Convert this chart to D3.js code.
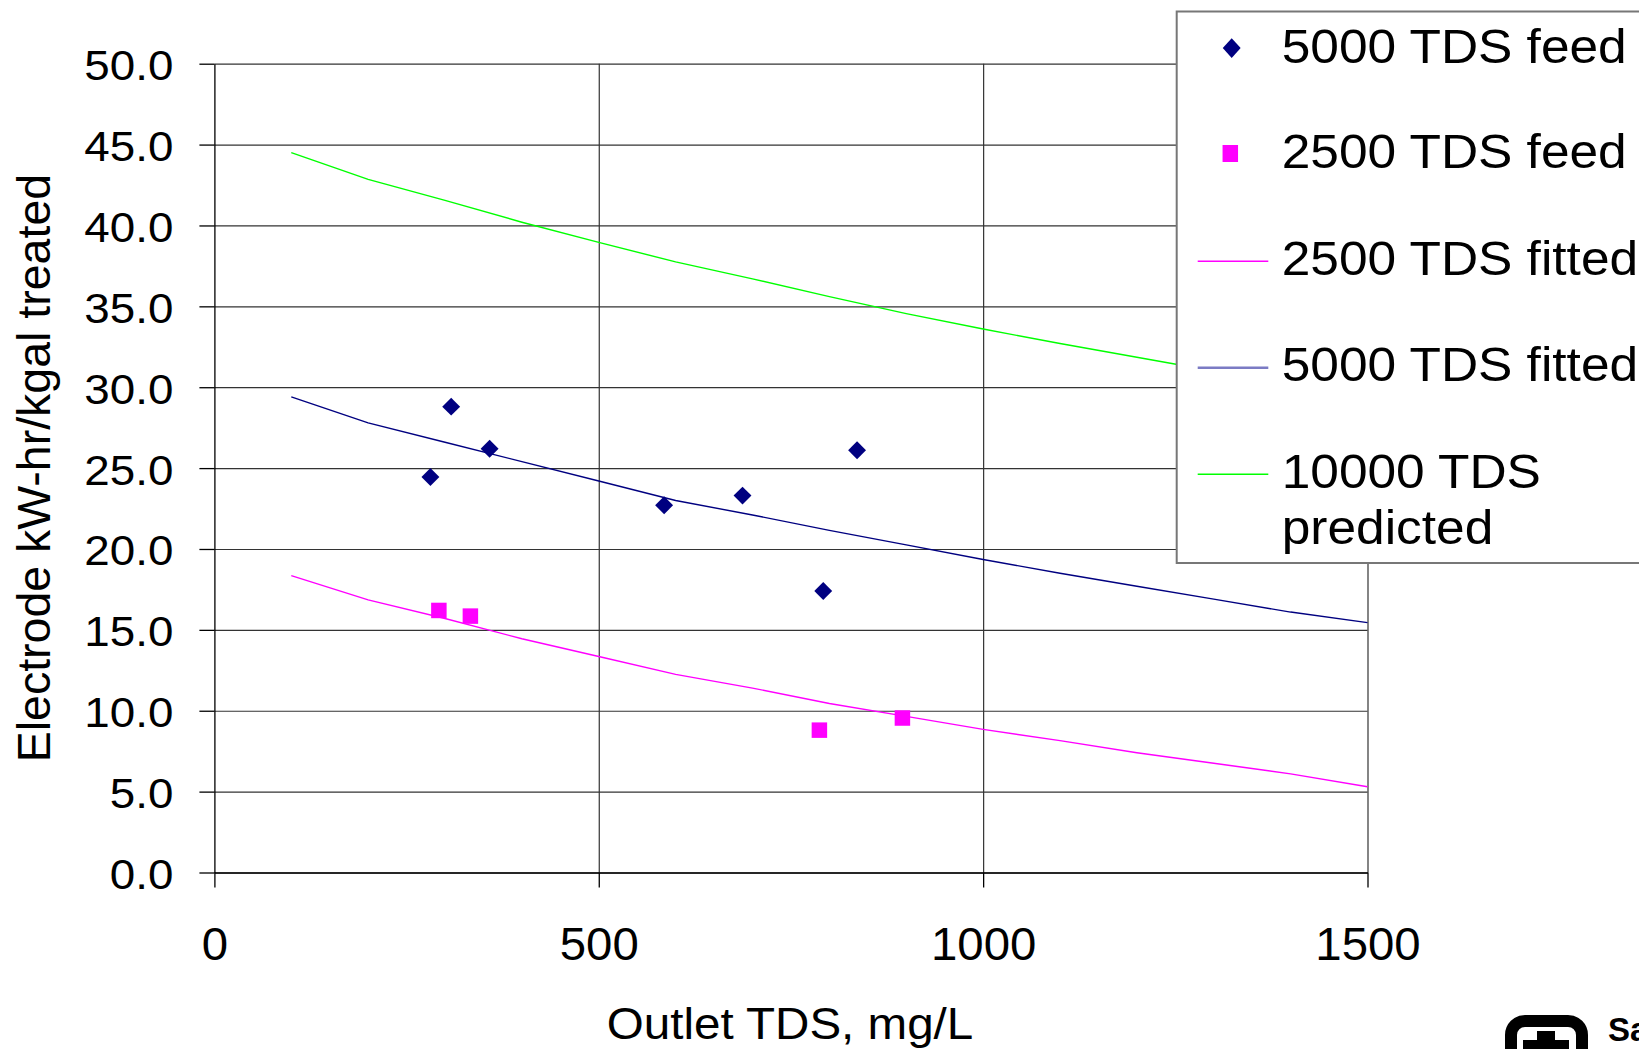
<!DOCTYPE html>
<html>
<head>
<meta charset="utf-8">
<script src="https://cdn.jsdelivr.net/npm/d3@7"></script>
<style>
  html, body { margin: 0; padding: 0; background: #fff; overflow: hidden; }
  #chart { width: 1639px; height: 1049px; }
  text { font-family: "Liberation Sans", Arial, sans-serif; fill: #000; }
</style>
</head>
<body>
<div id="chart"></div>
<script>
// ---- data ----
const xTicks = [0, 500, 1000, 1500];
const yTicks = [0, 5, 10, 15, 20, 25, 30, 35, 40, 45, 50];

const feed5000X = [281, 308, 358, 585, 687, 792, 836];
const feed5000Y = [24.45, 28.8, 26.2, 22.7, 23.3, 17.4, 26.1];

const feed2500X = [292, 333, 787, 895];
const feed2500Y = [16.2, 15.85, 8.8, 9.55];

const fitX = [100, 200, 300, 400, 500, 600, 700, 800, 900, 1000, 1100, 1200, 1300, 1400, 1500];
const fitted2500 = [18.35, 16.85, 15.7, 14.45, 13.35, 12.25, 11.4, 10.45, 9.65, 8.85, 8.15, 7.4, 6.75, 6.1, 5.3];
const fitted5000 = [29.4, 27.8, 26.6, 25.4, 24.2, 23.0, 22.1, 21.15, 20.25, 19.35, 18.5, 17.7, 16.9, 16.1, 15.45];
const predicted10000 = [44.5, 42.85, 41.55, 40.2, 38.95, 37.75, 36.7, 35.6, 34.55, 33.6, 32.7, 31.85, 31.0, 30.2, 29.45];

const legendLabels = [['5000 TDS feed'], ['2500 TDS feed'], ['2500 TDS fitted'], ['5000 TDS fitted'], ['10000 TDS', 'predicted']];

const width = 1639, height = 1049;
const margin = {top: 63.7, right: 271.5, bottom: 176.5, left: 214.4};
const innerWidth = width - margin.left - margin.right,
      innerHeight = height - margin.top - margin.bottom;

const svg = d3.select('#chart').append('svg')
  .attr('width', width)
  .attr('height', height);

const x = d3.scaleLinear().domain([0, 1500]).range([0, innerWidth]);
const y = d3.scaleLinear().domain([0, 50]).range([innerHeight, 0]);

const g = svg.append('g')
  .attr('transform', `translate(${margin.left},${margin.top})`);

// grid lines
g.append('g')
  .attr('class', 'grid grid--y')
  .call(d3.axisLeft(y).tickValues(yTicks).tickSize(-innerWidth).tickFormat(''))
  .call(s => s.select('.domain').remove())
  .selectAll('line').style('stroke', '#333').style('stroke-width', 1.2);

g.append('g')
  .attr('class', 'grid grid--x')
  .attr('transform', `translate(0,${innerHeight})`)
  .call(d3.axisBottom(x).tickValues(xTicks.slice(1)).tickSize(-innerHeight).tickFormat(''))
  .call(s => s.select('.domain').remove())
  .selectAll('line').style('stroke', '#333').style('stroke-width', 1.2);

// axes
const yAxis = g.append('g')
  .attr('class', 'y axis')
  .call(d3.axisLeft(y).tickValues(yTicks).tickSize(15).tickSizeOuter(0).tickFormat(d3.format('.1f')));
yAxis.selectAll('path, line').style('stroke', '#000').style('stroke-width', 1.3);
yAxis.selectAll('text')
  .attr('x', -41 / 1.09).attr('y', 16).attr('dy', null)
  .attr('transform', 'scale(1.09,1)')
  .style('font-size', '42px').style('font-family', '"Liberation Sans", Arial, sans-serif');

const xAxis = g.append('g')
  .attr('class', 'x axis')
  .attr('transform', `translate(0,${innerHeight})`)
  .call(d3.axisBottom(x).tickValues(xTicks).tickSize(15).tickSizeOuter(0).tickFormat(d3.format('d')));
xAxis.selectAll('path, line').style('stroke', '#000').style('stroke-width', 1.3);
xAxis.selectAll('text')
  .attr('y', 87.5).attr('dy', null)
  .attr('transform', 'scale(1.03,1)')
  .style('font-size', '46px').style('font-family', '"Liberation Sans", Arial, sans-serif');

// axis titles
svg.append('text')
  .attr('text-anchor', 'middle')
  .attr('transform', 'translate(790,1039) scale(1.057,1)')
  .style('font-size', '45px')
  .text('Outlet TDS, mg/L');

svg.append('text')
  .attr('text-anchor', 'middle')
  .attr('transform', `translate(50,${margin.top + innerHeight / 2}) rotate(-90)`)
  .style('font-size', '46.5px')
  .text('Electrode kW-hr/kgal treated');

// fitted lines
const fitLine = vals => d3.line()
  .x((d, i) => x(fitX[i]))
  .y(d => y(d))(vals);

const lines = [
  {vals: fitted2500, color: '#ff00ff'},
  {vals: fitted5000, color: '#000080'},
  {vals: predicted10000, color: '#00ff00'}
];
g.append('g').attr('class', 'fits')
  .selectAll('path')
  .data(lines)
  .join('path')
  .attr('d', d => fitLine(d.vals))
  .style('fill', 'none')
  .style('stroke', d => d.color)
  .style('stroke-width', 1.4);

// points
const diamond = d3.symbol().type(d3.symbolSquare).size(160)();
const square = d3.symbol().type(d3.symbolSquare).size(240)();

g.append('g').attr('class', 'feed5000')
  .selectAll('path')
  .data(feed5000X)
  .join('path')
  .attr('d', diamond)
  .attr('transform', (d, i) => `translate(${x(d)},${y(feed5000Y[i])}) rotate(45)`)
  .style('fill', '#000080');

g.append('g').attr('class', 'feed2500')
  .selectAll('path')
  .data(feed2500X)
  .join('path')
  .attr('d', square)
  .attr('transform', (d, i) => `translate(${x(d)},${y(feed2500Y[i])})`)
  .style('fill', '#ff00ff');

// legend
const legend = svg.append('g').attr('class', 'legend');
legend.append('rect')
  .attr('x', 1176.7).attr('y', 11.5)
  .attr('width', 520).attr('height', 551.5)
  .style('fill', '#fff')
  .style('stroke', '#777')
  .style('stroke-width', 2);

const legendBase = [62.9, 168.3, 274.5, 381.1, 487.6];
const item = legend.selectAll('g.item')
  .data(legendLabels)
  .join('g')
  .attr('class', 'item')
  .attr('transform', (d, i) => `translate(0,${legendBase[i]})`);

item.each(function(d, i) {
  const el = d3.select(this);
  if (i === 0) {
    el.append('path').attr('d', diamond)
      .attr('transform', 'translate(1231.7,-14.8) scale(1,1.1) rotate(45)')
      .style('fill', '#000080');
  } else if (i === 1) {
    el.append('path').attr('d', square)
      .attr('transform', 'translate(1230.3,-14.8) scale(1,1.1)')
      .style('fill', '#ff00ff');
  } else {
    el.append('line')
      .attr('x1', 1197.7).attr('x2', 1268.3)
      .attr('y1', -13.3).attr('y2', -13.3)
      .style('stroke', ['#ff00ff', '#7b7bc4', '#00ff00'][i - 2])
      .style('stroke-width', i === 3 ? 2.5 : 1.5);
  }
  d.forEach((t, k) => {
    el.append('text')
      .attr('transform', `translate(1281.7,${k * 56.2}) scale(1.05,1)`)
      .style('font-size', '49px')
      .text(t);
  });
});

// Sandia logo, mostly off the edge
const logo = svg.append('g').attr('class', 'logo');
logo.append('rect')
  .attr('x', 1511).attr('y', 1021)
  .attr('width', 71).attr('height', 60)
  .attr('rx', 14)
  .style('fill', 'none').style('stroke', '#000').style('stroke-width', 12);
logo.append('path')
  .attr('d', 'M1537,1031 h18 v9 h14 v12 h-14 v10 h-18 v-10 h-14 v-12 h14 z')
  .style('fill', '#000');
logo.append('text')
  .attr('x', 1608).attr('y', 1041)
  .style('font-family', '"Liberation Sans Narrow", "Liberation Sans", Arial, sans-serif')
  .style('font-weight', 'bold')
  .style('font-size', '33px')
  .text('Sandia');
logo.append('text')
  .attr('x', 1608).attr('y', 1072)
  .style('font-family', '"Liberation Sans Narrow", "Liberation Sans", Arial, sans-serif')
  .style('font-weight', 'bold')
  .style('font-size', '33px')
  .text('National');
</script>
</body>
</html>
